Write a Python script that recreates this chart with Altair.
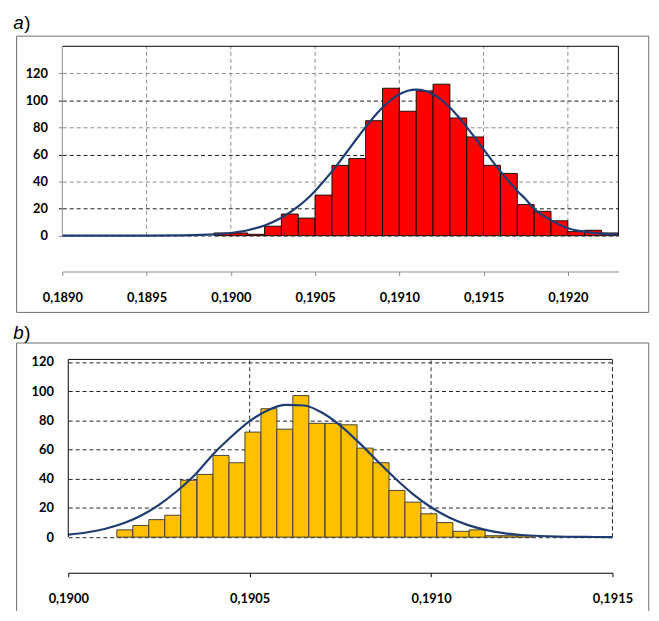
import altair as alt
import pandas as pd

# ---------------- data: panel a ----------------
a_bin_start = [0.1899, 0.1900, 0.1901, 0.1902, 0.1903, 0.1904, 0.1905, 0.1906,
               0.1907, 0.1908, 0.1909, 0.1910, 0.1911, 0.1912, 0.1913, 0.1914,
               0.1915, 0.1916, 0.1917, 0.1918, 0.1919, 0.1920, 0.1921, 0.1922]
a_bin_width = 0.0001
a_counts = [2, 2, 1, 7, 16, 13, 30, 52, 57, 85, 109, 92, 107, 112, 87, 73,
            52, 46, 23, 18, 11, 3, 4, 2]
a_curve_x = [0.1890, 0.1895, 0.1897, 0.1899, 0.1900, 0.1901, 0.1902, 0.1903,
             0.1904, 0.19045, 0.1905, 0.19055, 0.1906, 0.19065, 0.1907, 0.19075,
             0.1908, 0.19085, 0.1909, 0.19095, 0.1910, 0.19105, 0.1911,
             0.19115, 0.1912, 0.19125, 0.1913, 0.19135, 0.1914, 0.19145,
             0.1915, 0.19155, 0.1916, 0.19165, 0.1917, 0.19175, 0.1918,
             0.1919, 0.1920, 0.1921, 0.1922, 0.1923]
a_curve_y = [0, 0, 0.2, 0.9, 2.0, 4.0, 7.5, 13.2,
             21.6, 26.9, 33.1, 40.0, 47.5, 55.5, 63.8, 72.2,
             80.3, 87.9, 94.7, 100.3, 104.5, 107.1, 108,
             107.1, 104.5, 100.3, 94.7, 87.9, 80.3, 72.2,
             63.8, 55.5, 47.5, 40.0, 33.1, 26.9, 19.8,
             11.5, 5.5, 3.0, 1.5, 1.0]
a_xticks = [0.1890, 0.1895, 0.1900, 0.1905, 0.1910, 0.1915, 0.1920]
a_xgrid = [0.1895, 0.1900, 0.1905, 0.1910, 0.1915, 0.1920]
a_yticks = [0, 20, 40, 60, 80, 100, 120]
a_xdomain = [0.1890, 0.1923]
a_ydomain = [-26.5, 140]

# ---------------- data: panel b ----------------
b_bin_start = [0.190134, 0.190178, 0.190222, 0.190266, 0.190310, 0.190355,
               0.190399, 0.190443, 0.190487, 0.190531, 0.190575, 0.190619,
               0.190663, 0.190708, 0.190752, 0.190796, 0.190840, 0.190884,
               0.190928, 0.190972, 0.191016, 0.191061, 0.191105, 0.191149,
               0.191193, 0.191237]
b_bin_width = 0.0000441
b_counts = [5, 8, 12, 15, 39, 43, 56, 51, 72, 88, 74, 97, 78, 78, 77, 61,
            51, 32, 24, 16, 10, 4, 5, 1, 1, 1]
b_curve_x = [0.19000, 0.19005, 0.19010, 0.19015, 0.19020, 0.19025, 0.19030,
             0.19035, 0.19040, 0.19045, 0.19050, 0.19055, 0.19060, 0.19065,
             0.19070, 0.19075, 0.19080, 0.19085, 0.19090, 0.19095, 0.19100,
             0.19105, 0.19110, 0.19115, 0.19120, 0.19125, 0.19130, 0.19135,
             0.19140, 0.19145, 0.19150]
b_curve_y = [1.7, 3.2, 5.6, 9.3, 14.7, 22.1, 31.6,
             42.9, 57.0, 69.0, 79.5, 87.0, 90.6, 90.2,
             85.2, 76.4, 65.1, 52.7, 40.5, 29.5, 20.5,
             13.5, 8.4, 5.0, 2.8, 1.5, 0.8, 0.4,
             0.2, 0.1, 0.0]
b_xticks = [0.1900, 0.1905, 0.1910, 0.1915]
b_xgrid = [0.1905, 0.1910, 0.1915]
b_yticks = [0, 20, 40, 60, 80, 100, 120]
b_xdomain = [0.1900, 0.1915]
b_ydomain = [-24.4, 121.8]

FONT = "Lato"
CURVE = "#1F3C72"
LABEL_EXPR = "replace(format(datum.value, '.4f'), '.', ',')"
ORIGIN_X = 62.3
one = pd.DataFrame({"k": [0]})


def panel(letter, bin_start, bin_width, counts, cx, cy, xticks, xgrid, yticks,
          xdom, ydom, W, H, x0, top, fill, bar_stroke, xaxis_color,
          vgrid_color, hgrid_color, left_border_color, right_dashed,
          frame_top, frame_bottom, frame_closed, label_top, band_top, band_bottom,
          y_ticks_on):
    left = ORIGIN_X
    xs = alt.Scale(domain=xdom, nice=False, zero=False, range=[x0, W])
    ys = alt.Scale(domain=ydom, nice=False, zero=False)
    ymax = ydom[1]

    x_axis = alt.Axis(values=xticks, labelExpr=LABEL_EXPR, domainColor=xaxis_color,
                      tickColor=xaxis_color, tickSize=4, labelPadding=16, grid=False,
                      title=None, labelFlush=False, labelOverlap=False, labelFont=FONT,
                      labelFontSize=13, labelFontWeight="bold", labelColor="#000",
                      domainWidth=1)
    y_axis = alt.Axis(values=yticks, grid=True, gridDash=[4, 3], gridColor=hgrid_color,
                      gridWidth=1, domain=False, ticks=y_ticks_on, tickSize=4,
                      tickColor=hgrid_color, labelPadding=(11 if y_ticks_on else 15),
                      title=None, offset=-x0,
                      labelFont=FONT, labelFontSize=13, labelFontWeight="bold",
                      labelColor="#000", labelOverlap=False, labelFlush=False)

    bars = pd.DataFrame({
        "start": bin_start,
        "end": [round(s + bin_width, 7) for s in bin_start],
        "count": counts,
    })
    curve = pd.DataFrame({"x": cx, "y": cy})
    grid = pd.DataFrame({"x": xgrid})

    # invisible anchor fixing the panel's bounds on the page
    anchor = alt.Chart(one).mark_rect(opacity=0).encode(
        x=alt.value(8 - left), x2=alt.value(658 - left),
        y=alt.value(band_top - top), y2=alt.value(band_bottom - top),
    )

    # outer frame
    fx1, fx2 = 16 - left, 656 - left
    fy1, fy2 = frame_top - top, frame_bottom - top
    if frame_closed:
        frame = [alt.Chart(one).mark_rect(fillOpacity=0, stroke="#6e6e6e", strokeWidth=1).encode(
            x=alt.value(fx1), x2=alt.value(fx2), y=alt.value(fy1), y2=alt.value(fy2))]
    else:
        frame = [
            alt.Chart(one).mark_rule(color="#6e6e6e", strokeWidth=1).encode(
                x=alt.value(fx1), y=alt.value(fy1), y2=alt.value(fy2)),
            alt.Chart(one).mark_rule(color="#6e6e6e", strokeWidth=1).encode(
                x=alt.value(fx2), y=alt.value(fy1), y2=alt.value(fy2)),
            alt.Chart(one).mark_rule(color="#6e6e6e", strokeWidth=1).encode(
                x=alt.value(fx1), x2=alt.value(fx2), y=alt.value(fy1)),
        ]

    lx = 12.7 - left
    ly = label_top - top
    t1 = alt.Chart(one).mark_text(text=letter, font="Liberation Sans", fontSize=19,
                                  fontStyle="italic", align="left", baseline="top",
                                  color="#000").encode(x=alt.value(lx), y=alt.value(ly))
    t2 = alt.Chart(one).mark_text(text=")", font="Liberation Sans", fontSize=19,
                                  align="left", baseline="top",
                                  color="#000").encode(x=alt.value(lx + 11), y=alt.value(ly))

    def X(field):
        return alt.X(field, type="quantitative", scale=xs, axis=x_axis)

    def Y(field):
        return alt.Y(field, type="quantitative", scale=ys, axis=y_axis)

    def XD(v):
        return alt.XDatum(v, type="quantitative", scale=xs, axis=x_axis)

    def YD(v):
        return alt.YDatum(v, type="quantitative", scale=ys, axis=y_axis)

    vgrid = alt.Chart(grid).mark_rule(color=vgrid_color, strokeDash=[4, 3], strokeWidth=1).encode(
        x=X("x"), y=YD(0), y2=alt.Y2Datum(ymax),
    )

    hist = alt.Chart(bars).mark_rect(fill=fill, stroke=bar_stroke, strokeWidth=0.9).encode(
        x=X("start"), x2="end:Q", y=Y("count"), y2=alt.Y2Datum(0),
    )

    line = alt.Chart(curve).mark_line(color=CURVE, strokeWidth=2.2, interpolate="monotone").encode(
        x=X("x"), y=Y("y"),
    )

    top_border = alt.Chart(one).mark_rule(color="#000", strokeWidth=1).encode(
        x=XD(xdom[0]), x2=alt.X2Datum(xdom[1]), y=YD(ymax))
    left_border = alt.Chart(one).mark_rule(color=left_border_color, strokeWidth=1).encode(
        x=XD(xdom[0]), y=YD(0), y2=alt.Y2Datum(ymax))
    if right_dashed:
        right_border = alt.Chart(one).mark_rule(color="#333", strokeWidth=1, strokeDash=[4, 3]).encode(
            x=XD(xdom[1]), y=YD(0), y2=alt.Y2Datum(ymax))
    else:
        right_border = alt.Chart(one).mark_rule(color="#000", strokeWidth=1).encode(
            x=XD(xdom[1]), y=YD(0), y2=alt.Y2Datum(ymax))

    layers = [anchor] + frame + [t1, t2, vgrid, hist, line, top_border, left_border, right_border]
    return alt.layer(*layers).properties(width=W, height=H)


panel_a = panel("a", a_bin_start, a_bin_width, a_counts, a_curve_x, a_curve_y,
                a_xticks, a_xgrid, a_yticks, a_xdomain, a_ydomain,
                W=563, H=228, x0=0, top=42.3, fill="#FF0000", bar_stroke="#000",
                xaxis_color="#8c8c8c", vgrid_color="#8c8c8c",
                hgrid_color={"condition": {"test": "datum.value % 40 === 0", "value": "#8c8c8c"},
                             "value": "#1a1a1a"},
                left_border_color="#8c8c8c", right_dashed=False,
                frame_top=32, frame_bottom=311.7, frame_closed=True, label_top=10,
                band_top=8, band_bottom=316, y_ticks_on=True)
panel_b = panel("b", b_bin_start, b_bin_width, b_counts, b_curve_x, b_curve_y,
                b_xticks, b_xgrid, b_yticks, b_xdomain, b_ydomain,
                W=557, H=216, x0=6, top=358.3, fill="#FFC000", bar_stroke="#333",
                xaxis_color="#000", vgrid_color="#333", hgrid_color="#222",
                left_border_color="#000", right_dashed=True,
                frame_top=341.7, frame_bottom=613, frame_closed=False, label_top=322.7,
                band_top=316, band_bottom=613, y_ticks_on=False)

chart = alt.concat(panel_a, panel_b, columns=1, spacing=0).properties(
    padding=0
).configure_view(stroke=None)

chart.save("out.html", embed_options={"renderer": "svg", "actions": False})
